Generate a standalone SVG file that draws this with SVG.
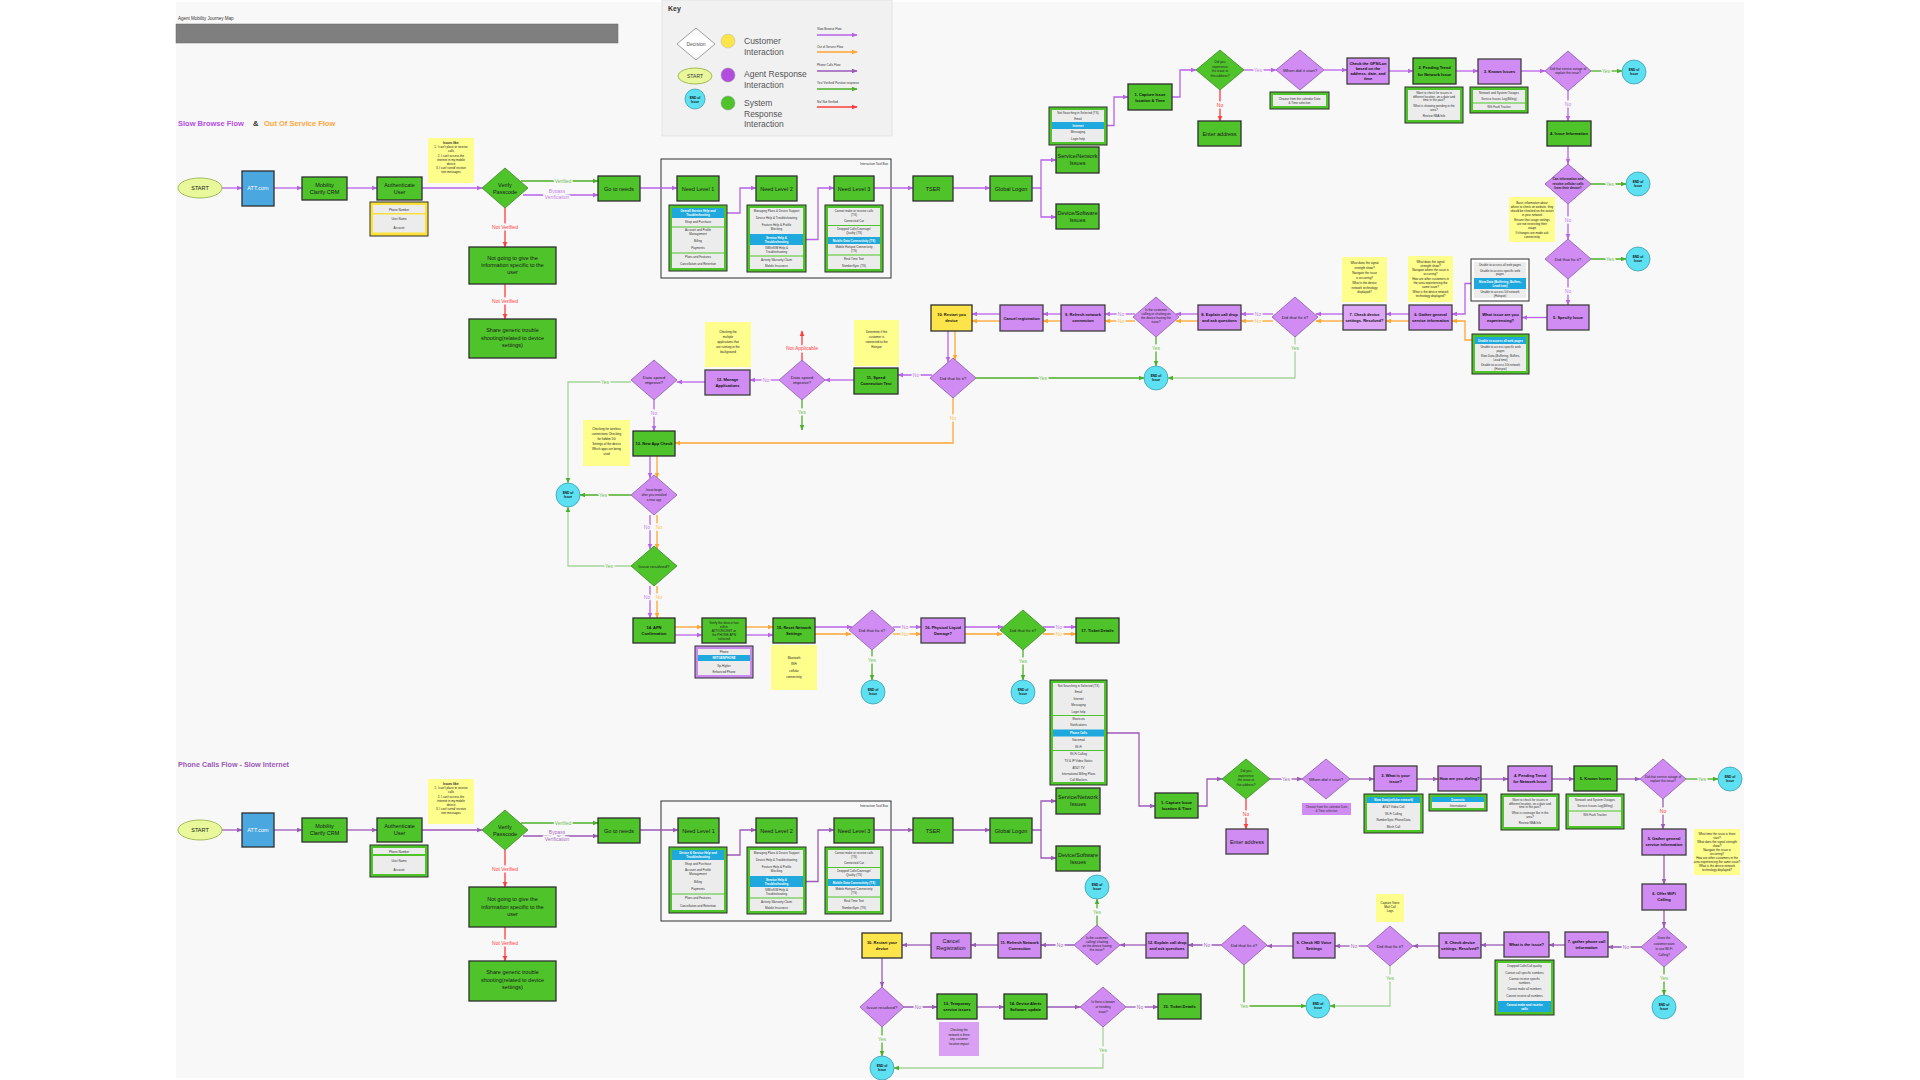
<svg xmlns="http://www.w3.org/2000/svg" width="1920" height="1080" viewBox="0 0 1920 1080">
<defs>
<style>
text{font-family:"Liberation Sans",Arial,sans-serif}
.n{font-size:5.5px;text-anchor:middle;fill:#1a1a1a}
.nb{font-size:4px;text-anchor:middle;fill:#111;font-weight:bold}
.d{font-size:4.4px;text-anchor:middle;fill:#222}
.ds{font-size:3.2px;text-anchor:middle;fill:#222}
.r{font-size:3px;text-anchor:middle;fill:#333}
.rw{font-size:3px;text-anchor:middle;fill:#fff;font-weight:bold}
.nt{font-size:3px;text-anchor:middle;fill:#222}
.wt{fill:#fff}
.g{fill:#4ec32a;stroke:#2e2e2e;stroke-width:1.3}
.p{fill:#d08cf2;stroke:#3e3e3e;stroke-width:1.3}
.pd{fill:#d08cf2;stroke:#8e5aa8;stroke-width:0.8}
.gd{fill:#4ec32a;stroke:#3a8a22;stroke-width:0.8}
.yl{fill:#fde44a;stroke:#2e2e2e;stroke-width:1.3}
.bl{fill:#4aa7e0;stroke:#2e2e2e;stroke-width:1.3}
.st{fill:#e8f89b;stroke:#8fae3b;stroke-width:0.8}
.note{fill:#fefe8c}
.end{fill:#5de0f2;stroke:#3a9fb0;stroke-width:0.8}
.tg{fill:#4ec32a;stroke:#2e2e2e;stroke-width:1}
.tin{fill:#ececec}
.hl{fill:#1ea8dd}
.dv{stroke:#4ec32a;stroke-width:1.2}
.c{fill:none;stroke-width:1.3}
.cp{stroke:#b862e8;marker-end:url(#ap)}
.co{stroke:#ffa530;marker-end:url(#ao)}
.cc{stroke:#9b59b6;marker-end:url(#ac)}
.cg{stroke:#4caf2a;marker-end:url(#ag)}
.cl{stroke:#a6d49c;marker-end:url(#ag)}
.cr{stroke:#ff3b3b;marker-end:url(#ar)}
.l{font-size:5px;text-anchor:middle;paint-order:stroke;stroke:#f8f8f8;stroke-width:3px}
.ly{fill:#6cbf4f}.ln{fill:#c77ee8}.lo{fill:#ffc04d}.lr{fill:#ff4040}.lc{fill:#a66cc0}
.ek{font-size:3.2px;text-anchor:middle;fill:#111;font-weight:bold}
</style>
<marker id="ap" viewBox="0 0 10 10" refX="9" refY="5" markerUnits="userSpaceOnUse" markerWidth="6" markerHeight="6" orient="auto"><path d="M0,1L10,5L0,9Z" fill="#b862e8"/></marker>
<marker id="ao" viewBox="0 0 10 10" refX="9" refY="5" markerUnits="userSpaceOnUse" markerWidth="6" markerHeight="6" orient="auto"><path d="M0,1L10,5L0,9Z" fill="#ffa530"/></marker>
<marker id="ac" viewBox="0 0 10 10" refX="9" refY="5" markerUnits="userSpaceOnUse" markerWidth="6" markerHeight="6" orient="auto"><path d="M0,1L10,5L0,9Z" fill="#9b59b6"/></marker>
<marker id="ag" viewBox="0 0 10 10" refX="9" refY="5" markerUnits="userSpaceOnUse" markerWidth="6" markerHeight="6" orient="auto"><path d="M0,1L10,5L0,9Z" fill="#4caf2a"/></marker>
<marker id="ar" viewBox="0 0 10 10" refX="9" refY="5" markerUnits="userSpaceOnUse" markerWidth="6" markerHeight="6" orient="auto"><path d="M0,1L10,5L0,9Z" fill="#ff3b3b"/></marker>
</defs>
<rect x="0" y="0" width="1920" height="1080" fill="#ffffff"/>
<rect x="176" y="2" width="1568" height="1076" fill="#f8f8f8"/>

<g id="header">
<text x="178" y="20" font-size="4.5" fill="#333">Agent Mobility Journey Map</text>
<rect x="176" y="24" width="442" height="19" fill="#7f7f7f" stroke="#666" stroke-width="0.5"/>
<text x="178" y="126" font-size="7.5" font-weight="bold" fill="#b44ee8">Slow Browse Flow</text>
<text x="253" y="126" font-size="7.5" font-weight="bold" fill="#333">&amp;</text>
<text x="264" y="126" font-size="7.5" font-weight="bold" fill="#ffa53a">Out Of Service Flow</text>
<text x="178" y="767" font-size="7.2" font-weight="bold" fill="#9b59b6">Phone Calls Flow - Slow Internet</text>
</g>

<g id="key">
<rect x="662" y="0" width="230" height="136" fill="#f1f1f1" stroke="#e3e3e3"/>
<text x="668" y="11" font-size="7" font-weight="bold" fill="#333">Key</text>
<polygon points="696,28 715,44 696,60 677,44" fill="#fff" stroke="#888" stroke-width="0.8"/>
<text x="696" y="46" font-size="5" text-anchor="middle" fill="#555">Decision</text>
<circle cx="728" cy="41" r="7" fill="#fde44a" stroke="#bbb" stroke-width="0.5"/>
<text x="744" y="44" font-size="8.5" fill="#555">Customer</text>
<text x="744" y="55" font-size="8.5" fill="#555">Interaction</text>
<ellipse cx="695" cy="76" rx="17" ry="8" class="st"/>
<text x="695" y="78" font-size="5" text-anchor="middle" fill="#333">START</text>
<circle cx="728" cy="75" r="7" fill="#b24de0" stroke="#999" stroke-width="0.5"/>
<text x="744" y="77" font-size="8.5" fill="#555">Agent Response</text>
<text x="744" y="88" font-size="8.5" fill="#555">Interaction</text>
<circle cx="695" cy="99" r="10" class="end"/>
<text x="695" y="98.5" class="ek">END of</text><text x="695" y="102.5" class="ek">Issue</text>
<circle cx="728" cy="103" r="7" fill="#4ec32a" stroke="#999" stroke-width="0.5"/>
<text x="744" y="106" font-size="8.5" fill="#555">System</text>
<text x="744" y="117" font-size="8.5" fill="#555">Response</text>
<text x="744" y="127" font-size="8.5" fill="#555">Interaction</text>
<text x="817" y="30" font-size="3" fill="#333">Slow Browse Flow</text>
<path d="M817,35H857" class="c cp"/>
<text x="817" y="48" font-size="3" fill="#333">Out of Service Flow</text>
<path d="M817,52H857" class="c co"/>
<text x="817" y="66" font-size="3" fill="#333">Phone Calls Flow</text>
<path d="M817,71H857" class="c cc"/>
<text x="817" y="84" font-size="3" fill="#333">Yes/ Verified/ Positive response</text>
<path d="M817,89H857" class="c cg"/>
<text x="817" y="103" font-size="3" fill="#333">No/ Not Verified</text>
<path d="M817,107H857" class="c cr"/>
</g>

<g id="frames">
<rect x="661" y="159" width="230" height="119" fill="none" stroke="#2e2e2e" stroke-width="1"/>
<text x="888" y="165" font-size="3.2" text-anchor="end" fill="#333">Interaction Tool Box</text>
<rect x="661" y="801" width="230" height="120" fill="none" stroke="#2e2e2e" stroke-width="1"/>
<text x="888" y="807" font-size="3.2" text-anchor="end" fill="#333">Interaction Tool Box</text>
</g>

<g id="connectors">
<!-- top flow -->
<path class="c cp" d="M222,188H242"/>
<path class="c cp" d="M274,188H302"/>
<path class="c cp" d="M347,188H377"/>
<path class="c cp" d="M422,188H482"/>
<path class="c cg" d="M521,181H598"/>
<path class="c cp" d="M523,195H598"/>
<path class="c cr" d="M505,208V247"/>
<path class="c cr" d="M505,284V319"/>
<path class="c cp" d="M640,188H677"/>
<path class="c cp" d="M727,213H740V188H756"/>
<path class="c cp" d="M806,239.5H818V188H834"/>
<path class="c cp" d="M874,188H913"/>
<path class="c cp" d="M953,188H990"/>
<path class="c cp" d="M1032,188H1041V160H1056"/>
<path class="c cp" d="M1041,188V217H1056"/>
<path class="c cp" d="M1107,125.5H1114V97H1128"/>
<path class="c cp" d="M1172,97H1180V70H1196"/>
<path class="c cr" d="M1220,90V121"/>
<path class="c cp" d="M1244,70H1276"/>
<path class="c cp" d="M1324,70H1347"/>
<path class="c cp" d="M1389,71H1413"/>
<path class="c cp" d="M1456,71H1478"/>
<path class="c cp" d="M1521,71H1545"/>
<path class="c cg" d="M1591,71H1622"/>
<path class="c cp" d="M1568,91V121"/>
<path class="c cp" d="M1568,146V164"/>
<path class="c cg" d="M1591,184H1626"/>
<path class="c cp" d="M1568,204V239"/>
<path class="c cg" d="M1591,259H1626"/>
<path class="c cp" d="M1568,279V305"/>
<path class="c cp" d="M1547,317.5H1522"/>
<path class="c cp" d="M1471,283.5H1465V314H1452"/>
<path class="c co" d="M1472,340H1465V321H1452"/>
<path class="c cp" d="M1409,314H1386"/>
<path class="c co" d="M1409,321H1386"/>
<path class="c cp" d="M1343,314H1316"/>
<path class="c co" d="M1343,321H1316"/>
<path class="c cp" d="M1273,314H1241"/>
<path class="c co" d="M1273,321H1241"/>
<path class="c cp" d="M1198,314H1176"/>
<path class="c co" d="M1198,321H1176"/>
<path class="c cp" d="M1135,314H1105"/>
<path class="c co" d="M1135,321H1105"/>
<path class="c cp" d="M1061,314H1043"/>
<path class="c co" d="M1061,321H1043"/>
<path class="c cp" d="M1000,314H972"/>
<path class="c co" d="M1000,321H972"/>
<path class="c cg" d="M1156,337V366"/>
<path class="c cl" d="M1295,337V378H1168"/>
<path class="c cp" d="M948,331V362"/>
<path class="c co" d="M955,331V360"/>
<path class="c cg" d="M976,378H1144"/>
<path class="c cp" d="M932,375H898"/>
<path class="c co" d="M953,398V443H675"/>
<path class="c cp" d="M854,380H825"/>
<path class="c cr" d="M802,360V331"/>
<path class="c cg" d="M802,400V430"/>
<path class="c cp" d="M779,380H750"/>
<path class="c cp" d="M705,382H677"/>
<path class="c cl" d="M631,382H568V483"/>
<path class="c cp" d="M654,400V431"/>
<path class="c cp" d="M650,456V478"/>
<path class="c co" d="M657,456V478"/>
<path class="c cg" d="M631,495H580"/>
<path class="c cp" d="M650,515V549"/>
<path class="c co" d="M657,515V549"/>
<path class="c cl" d="M631,566H568V507"/>
<path class="c cp" d="M650,586V618"/>
<path class="c co" d="M657,586V618"/>
<path class="c co" d="M675,627H702"/>
<path class="c cp" d="M675,635H702"/>
<path class="c co" d="M746,627H773"/>
<path class="c cp" d="M746,635H773"/>
<path class="c cp" d="M815,627H852"/>
<path class="c co" d="M815,634H851"/>
<path class="c cp" d="M893,627H921"/>
<path class="c co" d="M893,634H921"/>
<path class="c cg" d="M872,650V680"/>
<path class="c cp" d="M965,627H1003"/>
<path class="c co" d="M965,634H1002"/>
<path class="c cp" d="M1043,627H1076"/>
<path class="c co" d="M1043,634H1076"/>
<path class="c cg" d="M1023,650V680"/>
<!-- phone flow -->
<path class="c cc" d="M222,830H242"/>
<path class="c cc" d="M274,830H302"/>
<path class="c cc" d="M347,830H377"/>
<path class="c cc" d="M422,830H482"/>
<path class="c cg" d="M521,823H598"/>
<path class="c cc" d="M523,836H598"/>
<path class="c cr" d="M505,850V887"/>
<path class="c cr" d="M505,927V961"/>
<path class="c cc" d="M640,830H678"/>
<path class="c cc" d="M727,855H740V830H756"/>
<path class="c cc" d="M806,881.5H818V830H834"/>
<path class="c cc" d="M874,830H913"/>
<path class="c cc" d="M953,830H990"/>
<path class="c cc" d="M1032,830H1041V801H1056"/>
<path class="c cc" d="M1041,830V858H1056"/>
<path class="c cc" d="M1107,733H1139V806H1155"/>
<path class="c cc" d="M1198,806H1207V779H1222"/>
<path class="c cr" d="M1246,799V829"/>
<path class="c cc" d="M1270,779H1302"/>
<path class="c cc" d="M1350,779H1374"/>
<path class="c cc" d="M1417,779H1438"/>
<path class="c cc" d="M1481,779H1508"/>
<path class="c cc" d="M1552,779H1574"/>
<path class="c cc" d="M1617,779H1640"/>
<path class="c cg" d="M1686,779H1718"/>
<path class="c cc" d="M1663,799V829"/>
<path class="c cc" d="M1664,855V884"/>
<path class="c cc" d="M1664,910V927"/>
<path class="c cg" d="M1664,967V995"/>
<path class="c cc" d="M1641,947H1608"/>
<path class="c cc" d="M1565,945H1549"/>
<path class="c cc" d="M1504,945H1481"/>
<path class="c cc" d="M1439,946H1413"/>
<path class="c cl" d="M1390,966V1006H1330"/>
<path class="c cc" d="M1367,946H1335"/>
<path class="c cc" d="M1293,946H1267"/>
<path class="c cg" d="M1244,965V1006H1306"/>
<path class="c cc" d="M1221,945H1188"/>
<path class="c cc" d="M1146,945H1120"/>
<path class="c cg" d="M1097,925V899"/>
<path class="c cc" d="M1074,945H1041"/>
<path class="c cc" d="M998,945H971"/>
<path class="c cc" d="M931,945H902"/>
<path class="c cc" d="M882,958V987"/>
<path class="c cc" d="M904,1007H937"/>
<path class="c cc" d="M977,1007H1004"/>
<path class="c cc" d="M1047,1007H1080"/>
<path class="c cc" d="M1126,1007H1158"/>
<path class="c cl" d="M1103,1027V1068H894"/>
<path class="c cg" d="M882,1027V1056"/>
<!-- labels -->
<text class="l ly" x="563" y="182.5">Verified</text>
<text class="l ln" x="557" y="193">Bypass</text>
<text class="l ln" x="557" y="199">Verification</text>
<text class="l lr" x="505" y="229">Not Verified</text>
<text class="l lr" x="505" y="303">Not Verified</text>
<text class="l lr" x="1220" y="107">No</text>
<text class="l ln" x="1258" y="71.5">Yes</text>
<text class="l ly" x="1606" y="72.5">Yes</text>
<text class="l ln" x="1568" y="106">No</text>
<text class="l ly" x="1610" y="185.5">Yes</text>
<text class="l ln" x="1568" y="221.5">No</text>
<text class="l ly" x="1610" y="260.5">Yes</text>
<text class="l ln" x="1568" y="293">No</text>
<text class="l ln" x="1258" y="315.5">No</text>
<text class="l lo" x="1258" y="322.5">No</text>
<text class="l ln" x="1121" y="315.5">No</text>
<text class="l lo" x="1121" y="322.5">No</text>
<text class="l ly" x="1156" y="350">Yes</text>
<text class="l ly" x="1295" y="350">Yes</text>
<text class="l ly" x="1043" y="379.5">Yes</text>
<text class="l ln" x="916" y="376.5">No</text>
<text class="l lo" x="953" y="420">No</text>
<text class="l lr" x="802" y="349.5">Not Applicable</text>
<text class="l ly" x="802" y="413.5">Yes</text>
<text class="l ln" x="766" y="381.5">No</text>
<text class="l ly" x="605" y="383.5">Yes</text>
<text class="l ln" x="654" y="414.5">No</text>
<text class="l ly" x="603" y="496.5">Yes</text>
<text class="l ln" x="647" y="528.5">No</text>
<text class="l lo" x="659" y="528.5">No</text>
<text class="l ly" x="609" y="567.5">Yes</text>
<text class="l ln" x="647" y="598.5">No</text>
<text class="l lo" x="659" y="598.5">No</text>
<text class="l ln" x="905" y="628.5">No</text>
<text class="l lo" x="905" y="635.5">No</text>
<text class="l ly" x="872" y="662">Yes</text>
<text class="l ln" x="1059" y="628.5">No</text>
<text class="l lo" x="1059" y="635.5">No</text>
<text class="l ly" x="1023" y="663">Yes</text>
<text class="l ly" x="563" y="824.5">Verified</text>
<text class="l lc" x="557" y="834">Bypass</text>
<text class="l lc" x="557" y="840.5">Verification</text>
<text class="l lr" x="505" y="871">Not Verified</text>
<text class="l lr" x="505" y="945">Not Verified</text>
<text class="l lr" x="1246" y="816">No</text>
<text class="l lc" x="1286" y="780.5">Yes</text>
<text class="l ly" x="1702" y="780.5">Yes</text>
<text class="l lr" x="1663" y="812.5">No</text>
<text class="l ly" x="1664" y="980">Yes</text>
<text class="l lc" x="1626" y="948.5">No</text>
<text class="l ly" x="1390" y="979.5">Yes</text>
<text class="l lc" x="1354" y="947.5">No</text>
<text class="l ly" x="1244" y="1007.5">Yes</text>
<text class="l lc" x="1207" y="946.5">No</text>
<text class="l ly" x="1097" y="913.5">Yes</text>
<text class="l lc" x="1060" y="946.5">No</text>
<text class="l lc" x="918" y="1008.5">No</text>
<text class="l lc" x="1140" y="1008.5">No</text>
<text class="l ly" x="1103" y="1051.5">Yes</text>
<text class="l ly" x="882" y="1040.5">Yes</text>
</g>

<!-- ===== TOP FLOW NODES ===== -->
<g id="start1"><ellipse cx="200" cy="188" rx="22" ry="10" class="st"/><text class="n" x="200" y="190">START</text></g>
<g id="att1"><rect x="242" y="171" width="32" height="35" class="bl"/><text class="n wt" x="258" y="190">ATT.com</text></g>
<g id="crm1"><rect x="302" y="177" width="45" height="23" class="g"/><text class="n" x="324.5" y="186.5">Mobility</text><text class="n" x="324.5" y="193.5">Clarify CRM</text></g>
<g id="auth1"><rect x="377" y="177" width="45" height="23" class="g"/><text class="n" x="399.5" y="186.5">Authenticate</text><text class="n" x="399.5" y="193.5">User</text></g>
<g id="authT1"><rect x="370" y="202" width="58" height="34" fill="#fde03a" stroke="#2e2e2e" stroke-width="1"/><rect x="373" y="205" width="52" height="8" class="tin"/><rect x="373" y="214.5" width="52" height="18" class="tin"/><text class="r" x="399" y="210.5">Phone Number</text><text class="r" x="399" y="220">User Name</text><text class="r" x="399" y="228.5">Account</text></g>
<g id="note1"><rect x="428" y="138" width="46" height="45" class="note"/><text class="nt" x="451" y="144" font-weight="bold">Issues like:</text><text class="nt" x="451" y="148">1. I can't place or receive</text><text class="nt" x="451" y="152">calls</text><text class="nt" x="451" y="156.5">2. I can't access the</text><text class="nt" x="451" y="160.5">internet in my mobile</text><text class="nt" x="451" y="164.5">device</text><text class="nt" x="451" y="169">3. I can't send/ receive</text><text class="nt" x="451" y="173">text messages</text></g>
<g id="verify1"><polygon points="505,168 528,188 505,208 482,188" class="gd"/><text class="n" x="505" y="186.5">Verify</text><text class="n" x="505" y="193.5">Passcode</text></g>
<g id="notgo1"><rect x="469" y="247" width="87" height="37" class="g"/><text class="n" x="512.5" y="260">Not going to give the</text><text class="n" x="512.5" y="267">information specific to the</text><text class="n" x="512.5" y="274">user</text></g>
<g id="share1"><rect x="469" y="319" width="87" height="39" class="g"/><text class="n" x="512.5" y="332">Share generic trouble</text><text class="n" x="512.5" y="339.5">shooting(related to device</text><text class="n" x="512.5" y="347">settings)</text></g>
<g id="goto1"><rect x="598" y="176" width="42" height="25" class="g"/><text class="n" x="619" y="190.5">Go to needs</text></g>
<g id="nl1a"><rect x="677" y="176" width="42" height="25" class="g"/><text class="n" x="698" y="190.5">Need Level 1</text></g>
<g id="nl2a"><rect x="756" y="176" width="41" height="25" class="g"/><text class="n" x="776.5" y="190.5">Need Level 2</text></g>
<g id="nl3a"><rect x="834" y="176" width="40" height="25" class="g"/><text class="n" x="854" y="190.5">Need Level 3</text></g>
<g id="tser1"><rect x="913" y="176" width="40" height="25" class="g"/><text class="n" x="933" y="190.5">TSER</text></g>
<g id="t1a"><rect x="669" y="205" width="58" height="66" class="tg"/><rect x="672" y="208" width="52" height="60" class="tin"/><rect x="672" y="208" width="52" height="10" class="hl"/><text class="rw" x="698" y="212">Overall Service Help and</text><text class="rw" x="698" y="216">Troubleshooting</text><text class="r" x="698" y="223">Shop and Purchase</text><path d="M672,227H724" class="dv"/><text class="r" x="698" y="231">Account and Profile</text><text class="r" x="698" y="235">Management</text><text class="r" x="698" y="242">Billing</text><text class="r" x="698" y="249">Payments</text><path d="M672,253H724" class="dv"/><text class="r" x="698" y="258">Plans and Features</text><text class="r" x="698" y="265">Cancellation and Retention</text></g>
<g id="t2a"><rect x="747" y="205" width="59" height="67" class="tg"/><rect x="750" y="208" width="53" height="61" class="tin"/><text class="r" x="776.5" y="212">Managing Plans &amp; Device Support</text><text class="r" x="776.5" y="219">Device Help &amp; Troubleshooting</text><text class="r" x="776.5" y="226">Feature Help &amp; Profile</text><text class="r" x="776.5" y="230">Blocking</text><rect x="750" y="234" width="53" height="11" class="hl"/><text class="rw" x="776.5" y="238.5">Service Help &amp;</text><text class="rw" x="776.5" y="242.5">Troubleshooting</text><text class="r" x="776.5" y="249">SIM/eSIM Help &amp;</text><text class="r" x="776.5" y="253">Troubleshooting</text><path d="M750,256H803" class="dv"/><text class="r" x="776.5" y="261">Activity Warranty Claim</text><text class="r" x="776.5" y="267">Mobile Insurance</text></g>
<g id="t3a"><rect x="825" y="205" width="58" height="67" class="tg"/><rect x="828" y="208" width="52" height="61" class="tin"/><text class="r" x="854" y="212">Cannot make or receive calls</text><text class="r" x="854" y="216">(TS)</text><text class="r" x="854" y="222">Connected Car</text><path d="M828,225.5H880" class="dv"/><text class="r" x="854" y="230">Dropped Calls/Coverage/</text><text class="r" x="854" y="234">Quality (TS)</text><rect x="828" y="237" width="52" height="7" class="hl"/><text class="rw" x="854" y="241.5">Mobile Data Connectivity (TS)</text><text class="r" x="854" y="248">Mobile Hotspot Connectivity</text><text class="r" x="854" y="252">(TS)</text><path d="M828,255H880" class="dv"/><text class="r" x="854" y="260">Real Time Text</text><text class="r" x="854" y="267">NumberSync (TS)</text></g>
<g id="glob1"><rect x="990" y="176" width="42" height="25" class="g"/><text class="n" x="1011" y="190.5">Global Logon</text></g>
<g id="svc1"><rect x="1056" y="147" width="43" height="26" class="g"/><text class="n" x="1077.5" y="158">Service/Network</text><text class="n" x="1077.5" y="165">Issues</text></g>
<g id="dev1"><rect x="1056" y="204" width="43" height="25" class="g"/><text class="n" x="1077.5" y="214.5">Device/Software</text><text class="n" x="1077.5" y="221.5">Issues</text></g>
<g id="svcT1"><rect x="1049" y="107" width="58" height="38" class="tg"/><rect x="1052" y="110" width="52" height="32" class="tin"/><text class="r" x="1078" y="114">Not Searching in Selected (TS)</text><text class="r" x="1078" y="119.5">Email</text><rect x="1052" y="122" width="52" height="7" class="hl"/><text class="rw" x="1078" y="126.5">Internet</text><text class="r" x="1078" y="133">Messaging</text><text class="r" x="1078" y="140">Login help</text></g>
<g id="cap1"><rect x="1128" y="84" width="44" height="26" class="g"/><text class="nb" x="1150" y="95.5">1. Capture Issue</text><text class="nb" x="1150" y="101.5">location &amp; Time</text></g>
<g id="addr1"><polygon points="1220,50 1244,70 1220,90 1196,70" class="gd"/><text class="ds" x="1220" y="63">Did you</text><text class="ds" x="1220" y="67.5">experience</text><text class="ds" x="1220" y="72">the issue at</text><text class="ds" x="1220" y="76.5">this address?</text></g>
<g id="enter1"><rect x="1198" y="121" width="43" height="25" class="g"/><text class="n" x="1219.5" y="135.5">Enter address</text></g>
<g id="when1"><polygon points="1300,50 1324,70 1300,90 1276,70" class="pd"/><text class="d" x="1300" y="71.5">When did it start?</text></g>
<g id="cal1"><rect x="1270" y="92" width="59" height="17" class="tg"/><rect x="1273" y="95" width="53" height="11" class="tin"/><text class="r" x="1299.5" y="99.5">Choose from the calendar Date</text><text class="r" x="1299.5" y="103.5">&amp; Time selection</text></g>
<g id="gps1"><rect x="1347" y="58" width="42" height="26" class="p"/><text class="nb" x="1368" y="65" font-size="3.6">Check the GPS/Lon</text><text class="nb" x="1368" y="70" font-size="3.6">based on the</text><text class="nb" x="1368" y="75" font-size="3.6">address, date, and</text><text class="nb" x="1368" y="80" font-size="3.6">time</text></g>
<g id="pend1"><rect x="1413" y="58" width="43" height="26" class="g"/><text class="nb" x="1434.5" y="69">2. Pending Trend</text><text class="nb" x="1434.5" y="75.5">for Network Issue</text></g>
<g id="pendT1"><rect x="1405" y="87" width="58" height="36" class="tg"/><rect x="1408" y="90" width="52" height="30" class="tin"/><text class="r" x="1434" y="94">Want to check for issues in</text><text class="r" x="1434" y="97.5">different location, on a date and</text><text class="r" x="1434" y="101">time in the past?</text><text class="r" x="1434" y="107">What is showing pending in the</text><text class="r" x="1434" y="110.5">area?</text><text class="r" x="1434" y="117">Review NBA Info</text></g>
<g id="known1"><rect x="1478" y="59" width="43" height="25" class="p"/><text class="nb" x="1499.5" y="73">3. Known Issues</text></g>
<g id="knownT1"><rect x="1470" y="87" width="58" height="26" class="tg"/><rect x="1473" y="90" width="52" height="20" class="tin"/><text class="r" x="1499" y="94">Network and System Outages</text><text class="r" x="1499" y="99.5">Service Issues Log(Billing)</text><path d="M1473,103H1525" class="dv"/><text class="r" x="1499" y="108">Wifi Fault Tracker</text></g>
<g id="outage1"><polygon points="1568,51 1591,71 1568,91 1545,71" class="pd"/><text class="ds" x="1568" y="69.5" font-size="3">Did that service outage of</text><text class="ds" x="1568" y="74" font-size="3">explain the issue?</text></g>
<g id="endA"><circle cx="1634" cy="72" r="12" class="end"/><text class="ek" x="1634" y="71">END of</text><text class="ek" x="1634" y="75">Issue</text></g>
<g id="info1"><rect x="1547" y="121" width="44" height="25" class="g"/><text class="nb" x="1569" y="135" font-size="3.7">4. Issue Information</text></g>
<g id="canInfo1"><polygon points="1568,164 1591,184 1568,204 1545,184" class="pd"/><text class="ds" x="1568" y="180" font-weight="bold">Can information and</text><text class="ds" x="1568" y="184.5" font-weight="bold">resolve cellular calls</text><text class="ds" x="1568" y="189" font-weight="bold">from their device?</text></g>
<g id="endB"><circle cx="1638" cy="184" r="12" class="end"/><text class="ek" x="1638" y="183">END of</text><text class="ek" x="1638" y="187">Issue</text></g>
<g id="note2"><rect x="1509" y="197" width="46" height="45" class="note"/><text class="nt" x="1532" y="204">Basic information about</text><text class="nt" x="1532" y="208">where to check on website, they</text><text class="nt" x="1532" y="212">should be checked on the outset</text><text class="nt" x="1532" y="216">in your network</text><text class="nt" x="1532" y="221">Ensure that usage settings</text><text class="nt" x="1532" y="225">are not restricting their</text><text class="nt" x="1532" y="229">usage</text><text class="nt" x="1532" y="234">If changes are made ask</text><text class="nt" x="1532" y="238">connectivity</text></g>
<g id="fix1"><polygon points="1568,239 1591,259 1568,279 1545,259" class="pd"/><text class="d" x="1568" y="260.5">Did that fix it?</text></g>
<g id="endC"><circle cx="1638" cy="259" r="12" class="end"/><text class="ek" x="1638" y="258">END of</text><text class="ek" x="1638" y="262">Issue</text></g>
<g id="spec1"><rect x="1547" y="305" width="42" height="25" class="p"/><text class="nb" x="1568" y="319">5. Specify Issue</text></g>
<g id="what1"><rect x="1479" y="305" width="43" height="25" class="p"/><text class="nb" x="1500.5" y="315.5" font-size="3.7">What issue are you</text><text class="nb" x="1500.5" y="321.5" font-size="3.7">experiencing?</text></g>
<g id="tA"><rect x="1471" y="259" width="58" height="42" fill="#fff" stroke="#2e2e2e" stroke-width="1"/><rect x="1474" y="262" width="52" height="36" class="tin"/><text class="r" x="1500" y="266">Unable to access all web pages</text><text class="r" x="1500" y="271.5">Unable to access specific web</text><text class="r" x="1500" y="275">pages</text><rect x="1474" y="278" width="52" height="11" class="hl"/><text class="rw" x="1500" y="282.5">Slow Data (Buffering, Buffers,</text><text class="rw" x="1500" y="286.5">Lead time)</text><text class="r" x="1500" y="293">Unable to access 5G network</text><text class="r" x="1500" y="297">(Hotspot)</text></g>
<g id="tB"><rect x="1472" y="334" width="57" height="40" class="tg"/><rect x="1475" y="337" width="51" height="34" class="tin"/><rect x="1475" y="337" width="51" height="7" class="hl"/><text class="rw" x="1500.5" y="341.5">Unable to access all web pages</text><text class="r" x="1500.5" y="348">Unable to access specific web</text><text class="r" x="1500.5" y="351.5">pages</text><text class="r" x="1500.5" y="357">Slow Data (Buffering, Buffers,</text><text class="r" x="1500.5" y="360.5">Lead time)</text><text class="r" x="1500.5" y="366">Unable to access 5G network</text><text class="r" x="1500.5" y="369.5">(Hotspot)</text></g>
<g id="gath1"><rect x="1409" y="305" width="43" height="25" class="p"/><text class="nb" x="1430.5" y="315.5" font-size="3.7">6. Gather general</text><text class="nb" x="1430.5" y="321.5" font-size="3.7">service information</text></g>
<g id="note3"><rect x="1408" y="256" width="45" height="46" class="note"/><text class="nt" x="1430.5" y="263">What does the signal</text><text class="nt" x="1430.5" y="267">strength show?</text><text class="nt" x="1430.5" y="271">Navigate where the issue is</text><text class="nt" x="1430.5" y="275">occurring?</text><text class="nt" x="1430.5" y="280">How are other customers in</text><text class="nt" x="1430.5" y="284">the area experiencing the</text><text class="nt" x="1430.5" y="288">same issue?</text><text class="nt" x="1430.5" y="293">What is the device network</text><text class="nt" x="1430.5" y="297">technology displayed?</text></g>
<g id="note4"><rect x="1342" y="257" width="45" height="45" class="note"/><text class="nt" x="1364.5" y="264">What does the signal</text><text class="nt" x="1364.5" y="268.5">strength show?</text><text class="nt" x="1364.5" y="274">Navigate the issue</text><text class="nt" x="1364.5" y="278.5">is occurring?</text><text class="nt" x="1364.5" y="284">What is the device</text><text class="nt" x="1364.5" y="288.5">network technology</text><text class="nt" x="1364.5" y="293">displayed?</text></g>
<g id="chk7"><rect x="1343" y="305" width="43" height="25" fill="#dda6f6" stroke="#3e3e3e" stroke-width="1.3"/><text class="nb" x="1364.5" y="315.5" font-size="3.7">7. Check device</text><text class="nb" x="1364.5" y="321.5" font-size="3.7">settings. Resolved?</text></g>
<g id="fix2"><polygon points="1295,297 1318,317 1295,337 1272,317" class="pd"/><text class="d" x="1295" y="318.5">Did that fix it?</text></g>
<g id="exp8"><rect x="1198" y="305" width="43" height="25" class="p"/><text class="nb" x="1219.5" y="315.5" font-size="3.7">8. Explain call drop</text><text class="nb" x="1219.5" y="321.5" font-size="3.7">and ask questions</text></g>
<g id="call1"><polygon points="1156,297 1179,317 1156,337 1133,317" class="pd"/><text class="ds" x="1156" y="311" font-size="3">Is the customer</text><text class="ds" x="1156" y="315" font-size="3">calling or chatting on</text><text class="ds" x="1156" y="319" font-size="3">the device having the</text><text class="ds" x="1156" y="323" font-size="3">issue?</text></g>
<g id="ref9"><rect x="1061" y="305" width="44" height="26" class="p"/><text class="nb" x="1083" y="316" font-size="3.7">9. Refresh network</text><text class="nb" x="1083" y="322" font-size="3.7">connection</text></g>
<g id="can1"><rect x="1000" y="305" width="43" height="26" class="p"/><text class="nb" x="1021.5" y="319.5" font-size="3.7">Cancel registration</text></g>
<g id="rst10"><rect x="931" y="305" width="41" height="26" class="yl"/><text class="nb" x="951.5" y="316" font-size="3.7">10. Restart you</text><text class="nb" x="951.5" y="322" font-size="3.7">device</text></g>
<g id="endD"><circle cx="1156" cy="378" r="12" class="end"/><text class="ek" x="1156" y="377">END of</text><text class="ek" x="1156" y="381">Issue</text></g>
<g id="fix3"><polygon points="953,358 976,378 953,398 930,378" class="pd"/><text class="d" x="953" y="379.5">Did that fix it?</text></g>
<g id="spd11"><rect x="854" y="368" width="44" height="26" class="g"/><text class="nb" x="876" y="379" font-size="3.7">11. Speed</text><text class="nb" x="876" y="385" font-size="3.7">Connection Test</text></g>
<g id="note5"><rect x="854" y="320" width="45" height="46" class="note"/><text class="nt" x="876.5" y="333" font-size="3.3">Determine if the</text><text class="nt" x="876.5" y="338" font-size="3.3">customer is</text><text class="nt" x="876.5" y="343" font-size="3.3">connected to the</text><text class="nt" x="876.5" y="348" font-size="3.3">Hotspot</text></g>
<g id="data1"><polygon points="802,360 825,380 802,400 779,380" class="pd"/><text class="d" x="802" y="378.5">Data speed</text><text class="d" x="802" y="383.5">improve?</text></g>
<g id="man12"><rect x="705" y="370" width="45" height="25" class="p"/><text class="nb" x="727.5" y="380.5" font-size="3.7">12. Manage</text><text class="nb" x="727.5" y="386.5" font-size="3.7">Applications</text></g>
<g id="note6"><rect x="705" y="322" width="46" height="45" class="note"/><text class="nt" x="728" y="333" font-size="3.3">Checking the</text><text class="nt" x="728" y="338" font-size="3.3">multiple</text><text class="nt" x="728" y="343" font-size="3.3">applications that</text><text class="nt" x="728" y="348" font-size="3.3">are running in the</text><text class="nt" x="728" y="353" font-size="3.3">background</text></g>
<g id="data2"><polygon points="654,360 677,380 654,400 631,380" class="pd"/><text class="d" x="654" y="378.5">Data speed</text><text class="d" x="654" y="383.5">improve?</text></g>
<g id="endE"><circle cx="568" cy="495" r="12" class="end"/><text class="ek" x="568" y="494">END of</text><text class="ek" x="568" y="498">Issue</text></g>
<g id="app13"><rect x="633" y="431" width="42" height="25" class="g"/><text class="nb" x="654" y="445" font-size="3.7">13. New App Check</text></g>
<g id="note7"><rect x="583" y="420" width="47" height="46" class="note"/><text class="nt" x="606.5" y="430">Checking for wireless</text><text class="nt" x="606.5" y="435">connections Checking</text><text class="nt" x="606.5" y="440">for hidden 5G</text><text class="nt" x="606.5" y="445">Settings of the device</text><text class="nt" x="606.5" y="450">Which apps are being</text><text class="nt" x="606.5" y="455">used</text></g>
<g id="begin1"><polygon points="654,475 677,495 654,515 631,495" class="pd"/><text class="ds" x="654" y="490.5" font-size="3.6">Issue begin</text><text class="ds" x="654" y="495.5" font-size="3.6">after you installed</text><text class="ds" x="654" y="500.5" font-size="3.6">a new app</text></g>
<g id="res1"><polygon points="654,546 677,566 654,586 631,566" class="gd"/><text class="d" x="654" y="567.5">Issue resolved?</text></g>
<g id="apn14"><rect x="633" y="618" width="42" height="25" class="g"/><text class="nb" x="654" y="628.5" font-size="3.7">14. APN</text><text class="nb" x="654" y="634.5" font-size="3.7">Confirmation</text></g>
<g id="ver2"><rect x="702" y="618" width="44" height="25" class="g"/><text class="ds" x="724" y="624">Verify the device has</text><text class="ds" x="724" y="628">either</text><text class="ds" x="724" y="632">ATT/CRICKET or</text><text class="ds" x="724" y="636">the PHONE APN</text><text class="ds" x="724" y="640">selected</text></g>
<g id="apnT"><rect x="695" y="646" width="58" height="32" fill="#c98aef" stroke="#2e2e2e" stroke-width="1"/><rect x="698" y="649" width="52" height="26" class="tin"/><text class="r" x="724" y="653">Phone</text><rect x="698" y="655" width="52" height="6" class="hl"/><text class="rw" x="724" y="659">NXTGENPHONE</text><text class="r" x="724" y="666.5">Sp-Higher</text><text class="r" x="724" y="673">Enhanced Phone</text></g>
<g id="rst15"><rect x="773" y="618" width="42" height="25" class="g"/><text class="nb" x="794" y="628.5" font-size="3.7">15. Reset Network</text><text class="nb" x="794" y="634.5" font-size="3.7">Settings</text></g>
<g id="note8"><rect x="771" y="645" width="46" height="45" class="note"/><text class="nt" x="794" y="659" font-size="3.6">Bluetooth</text><text class="nt" x="794" y="665" font-size="3.6">WiFi</text><text class="nt" x="794" y="672" font-size="3.6">cellular</text><text class="nt" x="794" y="678" font-size="3.6">connectivity</text></g>
<g id="fix4"><polygon points="872,610 895,630 872,650 849,630" class="pd"/><text class="d" x="872" y="631.5">Did that fix it?</text></g>
<g id="endF"><circle cx="873" cy="692" r="12" class="end"/><text class="ek" x="873" y="691">END of</text><text class="ek" x="873" y="695">Issue</text></g>
<g id="liq16"><rect x="921" y="618" width="44" height="25" class="p"/><text class="nb" x="943" y="628.5" font-size="3.7">16. Physical Liquid</text><text class="nb" x="943" y="634.5" font-size="3.7">Damage?</text></g>
<g id="fix5"><polygon points="1023,610 1046,630 1023,650 1000,630" class="gd"/><text class="d" x="1023" y="631.5">Did that fix it?</text></g>
<g id="tick17"><rect x="1076" y="618" width="43" height="25" class="g"/><text class="nb" x="1097.5" y="632" font-size="3.7">17. Ticket Details</text></g>
<g id="endG"><circle cx="1023" cy="692" r="12" class="end"/><text class="ek" x="1023" y="691">END of</text><text class="ek" x="1023" y="695">Issue</text></g>
<g id="bigT"><rect x="1050" y="680" width="57" height="105" class="tg"/><rect x="1053" y="683" width="51" height="99" class="tin"/><text class="r" x="1078.5" y="687">Not Searching in Selected (TS)</text><text class="r" x="1078.5" y="693">Email</text><text class="r" x="1078.5" y="699.5">Internet</text><text class="r" x="1078.5" y="706">Messaging</text><text class="r" x="1078.5" y="712.5">Login help</text><path d="M1053,715.5H1104" class="dv"/><text class="r" x="1078.5" y="720">Shortcuts</text><text class="r" x="1078.5" y="726">Notifications</text><rect x="1053" y="729.5" width="51" height="7" class="hl"/><text class="rw" x="1078.5" y="734">Phone Calls</text><text class="r" x="1078.5" y="741">Voicemail</text><text class="r" x="1078.5" y="747.5">Wi-Fi</text><path d="M1053,750.5H1104" class="dv"/><text class="r" x="1078.5" y="755">Wi-Fi Calling</text><text class="r" x="1078.5" y="762">TV &amp; IP Video Status</text><text class="r" x="1078.5" y="768.5">AT&amp;T TV</text><text class="r" x="1078.5" y="775">International Billing Plans</text><text class="r" x="1078.5" y="781">Call Blockers</text></g>

<!-- ===== PHONE FLOW NODES ===== -->
<g id="start2"><ellipse cx="200" cy="830" rx="22" ry="10" class="st"/><text class="n" x="200" y="832">START</text></g>
<g id="att2"><rect x="242" y="813" width="32" height="34" class="bl"/><text class="n wt" x="258" y="832">ATT.com</text></g>
<g id="crm2"><rect x="302" y="818" width="45" height="24" class="g"/><text class="n" x="324.5" y="828">Mobility</text><text class="n" x="324.5" y="835">Clarify CRM</text></g>
<g id="auth2"><rect x="377" y="818" width="45" height="24" class="g"/><text class="n" x="399.5" y="828">Authenticate</text><text class="n" x="399.5" y="835">User</text></g>
<g id="authT2"><rect x="370" y="845" width="58" height="32" class="tg"/><rect x="373" y="848" width="52" height="6" class="tin"/><rect x="373" y="856" width="52" height="18" class="tin"/><text class="r" x="399" y="852.5">Phone Number</text><text class="r" x="399" y="862">User Name</text><text class="r" x="399" y="871">Account</text></g>
<g id="note9"><rect x="428" y="779" width="46" height="45" class="note"/><text class="nt" x="451" y="785" font-weight="bold">Issues like:</text><text class="nt" x="451" y="789">1. I can't place or receive</text><text class="nt" x="451" y="793">calls</text><text class="nt" x="451" y="797.5">2. I can't access the</text><text class="nt" x="451" y="801.5">internet in my mobile</text><text class="nt" x="451" y="805.5">device</text><text class="nt" x="451" y="810">3. I can't send/ receive</text><text class="nt" x="451" y="814">text messages</text></g>
<g id="verify3"><polygon points="505,810 528,830 505,850 482,830" class="gd"/><text class="n" x="505" y="828.5">Verify</text><text class="n" x="505" y="835.5">Passcode</text></g>
<g id="notgo2"><rect x="469" y="887" width="87" height="40" class="g"/><text class="n" x="512.5" y="901">Not going to give the</text><text class="n" x="512.5" y="908.5">information specific to the</text><text class="n" x="512.5" y="916">user</text></g>
<g id="share2"><rect x="469" y="961" width="87" height="40" class="g"/><text class="n" x="512.5" y="974">Share generic trouble</text><text class="n" x="512.5" y="981.5">shooting(related to device</text><text class="n" x="512.5" y="989">settings)</text></g>
<g id="goto2"><rect x="598" y="818" width="42" height="25" class="g"/><text class="n" x="619" y="832.5">Go to needs</text></g>
<g id="nl1b"><rect x="678" y="818" width="41" height="25" class="g"/><text class="n" x="698.5" y="832.5">Need Level 1</text></g>
<g id="nl2b"><rect x="756" y="818" width="41" height="25" class="g"/><text class="n" x="776.5" y="832.5">Need Level 2</text></g>
<g id="nl3b"><rect x="834" y="818" width="40" height="25" class="g"/><text class="n" x="854" y="832.5">Need Level 3</text></g>
<g id="tser2"><rect x="913" y="818" width="40" height="25" class="g"/><text class="n" x="933" y="832.5">TSER</text></g>
<g id="t1b"><rect x="669" y="847" width="58" height="66" class="tg"/><rect x="672" y="850" width="52" height="60" class="tin"/><rect x="672" y="850" width="52" height="10" class="hl"/><text class="rw" x="698" y="854">Device &amp; Service Help and</text><text class="rw" x="698" y="858">Troubleshooting</text><text class="r" x="698" y="865">Shop and Purchase</text><text class="r" x="698" y="871">Account and Profile</text><text class="r" x="698" y="875">Management</text><text class="r" x="698" y="883">Billing</text><text class="r" x="698" y="890">Payments</text><path d="M672,894H724" class="dv"/><text class="r" x="698" y="899">Plans and Features</text><text class="r" x="698" y="907">Cancellation and Retention</text></g>
<g id="t2b"><rect x="747" y="847" width="59" height="67" class="tg"/><rect x="750" y="850" width="53" height="61" class="tin"/><text class="r" x="776.5" y="854">Managing Plans &amp; Device Support</text><text class="r" x="776.5" y="861">Device Help &amp; Troubleshooting</text><text class="r" x="776.5" y="868">Feature Help &amp; Profile</text><text class="r" x="776.5" y="872">Blocking</text><rect x="750" y="876" width="53" height="11" class="hl"/><text class="rw" x="776.5" y="880.5">Service Help &amp;</text><text class="rw" x="776.5" y="884.5">Troubleshooting</text><text class="r" x="776.5" y="891">SIM/eSIM Help &amp;</text><text class="r" x="776.5" y="895">Troubleshooting</text><path d="M750,898H803" class="dv"/><text class="r" x="776.5" y="903">Activity Warranty Claim</text><text class="r" x="776.5" y="909">Mobile Insurance</text></g>
<g id="t3b"><rect x="825" y="847" width="58" height="67" class="tg"/><rect x="828" y="850" width="52" height="61" class="tin"/><text class="r" x="854" y="854">Cannot make or receive calls</text><text class="r" x="854" y="858">(TS)</text><text class="r" x="854" y="864">Connected Car</text><path d="M828,867.5H880" class="dv"/><text class="r" x="854" y="872">Dropped Calls/Coverage/</text><text class="r" x="854" y="876">Quality (TS)</text><rect x="828" y="879" width="52" height="7" class="hl"/><text class="rw" x="854" y="883.5">Mobile Data Connectivity (TS)</text><text class="r" x="854" y="890">Mobile Hotspot Connectivity</text><text class="r" x="854" y="894">(TS)</text><path d="M828,897H880" class="dv"/><text class="r" x="854" y="902">Real Time Text</text><text class="r" x="854" y="909">NumberSync (TS)</text></g>
<g id="glob2"><rect x="990" y="818" width="42" height="25" class="g"/><text class="n" x="1011" y="832.5">Global Logon</text></g>
<g id="svc2"><rect x="1056" y="788" width="44" height="26" class="g"/><text class="n" x="1078" y="799">Service/Network</text><text class="n" x="1078" y="806">Issues</text></g>
<g id="dev2"><rect x="1056" y="846" width="44" height="25" class="g"/><text class="n" x="1078" y="856.5">Device/Software</text><text class="n" x="1078" y="863.5">Issues</text></g>
<g id="cap2"><rect x="1155" y="793" width="43" height="25" class="g"/><text class="nb" x="1176.5" y="803.5">1. Capture Issue</text><text class="nb" x="1176.5" y="809.5">location &amp; Time</text></g>
<g id="addr2"><polygon points="1246,759 1270,779 1246,799 1222,779" class="gd"/><text class="ds" x="1246" y="772">Did you</text><text class="ds" x="1246" y="776.5">experience</text><text class="ds" x="1246" y="781">the issue at</text><text class="ds" x="1246" y="785.5">this address?</text></g>
<g id="enter2"><rect x="1226" y="829" width="42" height="25" class="p"/><text class="n" x="1247" y="843.5">Enter address</text></g>
<g id="when2"><polygon points="1326,759 1350,779 1326,799 1302,779" class="pd"/><text class="d" x="1326" y="780.5">When did it start?</text></g>
<g id="cal2"><rect x="1302" y="803" width="49" height="12" fill="#d08cf2"/><text class="r" x="1326.5" y="808">Choose from the calendar Date</text><text class="r" x="1326.5" y="812">&amp; Time selection</text></g>
<g id="what3"><rect x="1374" y="766" width="43" height="25" class="p"/><text class="nb" x="1395.5" y="776.5">3. What is your</text><text class="nb" x="1395.5" y="782.5">issue?</text></g>
<g id="what3T"><rect x="1364" y="794" width="59" height="39" class="tg"/><rect x="1367" y="797" width="53" height="33" class="tin"/><rect x="1367" y="797" width="53" height="6" class="hl"/><text class="rw" x="1393.5" y="801">Slow Data(cellular network)</text><text class="r" x="1393.5" y="808">AT&amp;T Video Call</text><text class="r" x="1393.5" y="814.5">Wi-Fi Calling</text><text class="r" x="1393.5" y="821">NumberSync Phone/Data</text><text class="r" x="1393.5" y="827.5">Mesh Call</text></g>
<g id="dial"><rect x="1438" y="766" width="43" height="25" class="p"/><text class="nb" x="1459.5" y="780" font-size="3.6">How are you dialing?</text></g>
<g id="dialT"><rect x="1429" y="794" width="58" height="17" class="tg"/><rect x="1432" y="797" width="52" height="11" class="tin"/><rect x="1432" y="797" width="52" height="5" class="hl"/><text class="rw" x="1458" y="800.8">Domestic</text><text class="r" x="1458" y="806.5">International</text></g>
<g id="pend2"><rect x="1508" y="766" width="44" height="25" class="p"/><text class="nb" x="1530" y="776.5">4. Pending Trend</text><text class="nb" x="1530" y="782.5">for Network Issue</text></g>
<g id="pend2T"><rect x="1501" y="794" width="58" height="36" class="tg"/><rect x="1504" y="797" width="52" height="30" class="tin"/><text class="r" x="1530" y="801">Want to check for issues in</text><text class="r" x="1530" y="804.5">different location, on a date and</text><text class="r" x="1530" y="808">time in the past?</text><text class="r" x="1530" y="814">What is coverage like in the</text><text class="r" x="1530" y="817.5">area?</text><text class="r" x="1530" y="824">Review NBA Info</text></g>
<g id="known2"><rect x="1574" y="766" width="43" height="25" class="g"/><text class="nb" x="1595.5" y="780">5. Known Issues</text></g>
<g id="known2T"><rect x="1566" y="794" width="58" height="35" class="tg"/><rect x="1569" y="797" width="52" height="29" class="tin"/><text class="r" x="1595" y="800.5">Network and System Outages</text><text class="r" x="1595" y="807">Service Issues Log(Billing)</text><path d="M1569,811H1621" class="dv"/><text class="r" x="1595" y="816">Wifi Fault Tracker</text></g>
<g id="outage2"><polygon points="1663,759 1686,779 1663,799 1640,779" class="pd"/><text class="ds" x="1663" y="777.5" font-size="3">Did that service outage of</text><text class="ds" x="1663" y="782" font-size="3">explain the issue?</text></g>
<g id="endH"><circle cx="1730" cy="779" r="12" class="end"/><text class="ek" x="1730" y="778">END of</text><text class="ek" x="1730" y="782">Issue</text></g>
<g id="gat5"><rect x="1642" y="829" width="44" height="26" class="p"/><text class="nb" x="1664" y="840" font-size="3.7">5. Gather general</text><text class="nb" x="1664" y="846" font-size="3.7">service information</text></g>
<g id="note10"><rect x="1694" y="829" width="46" height="46" class="note"/><text class="nt" x="1717" y="835">What time the issue is there</text><text class="nt" x="1717" y="838.5">start?</text><text class="nt" x="1717" y="843">What does the signal strength</text><text class="nt" x="1717" y="846.5">show?</text><text class="nt" x="1717" y="851">Navigate the issue is</text><text class="nt" x="1717" y="854.5">occurring?</text><text class="nt" x="1717" y="859">How are other customers in the</text><text class="nt" x="1717" y="862.5">area experiencing the same issue?</text><text class="nt" x="1717" y="867">What is the device network</text><text class="nt" x="1717" y="870.5">technology displayed?</text></g>
<g id="wifi6"><rect x="1642" y="884" width="44" height="26" class="p"/><text class="nb" x="1664" y="895">6. Offer WiFi</text><text class="nb" x="1664" y="901">Calling</text></g>
<g id="want"><polygon points="1664,927 1687,947 1664,967 1641,947" class="pd"/><text class="ds" x="1664" y="939" font-size="4">Does the</text><text class="ds" x="1664" y="944.5" font-size="4">customer want</text><text class="ds" x="1664" y="950" font-size="4">to use Wi-Fi</text><text class="ds" x="1664" y="955.5" font-size="4">Calling?</text></g>
<g id="endI"><circle cx="1664" cy="1007" r="12" class="end"/><text class="ek" x="1664" y="1006">END of</text><text class="ek" x="1664" y="1010">Issue</text></g>
<g id="gat7"><rect x="1565" y="932" width="43" height="25" class="p"/><text class="nb" x="1586.5" y="942.5" font-size="3.7">7. gather phone call</text><text class="nb" x="1586.5" y="948.5" font-size="3.7">information</text></g>
<g id="whatis"><rect x="1504" y="932" width="45" height="25" class="p"/><text class="nb" x="1526.5" y="946" font-size="3.7">What is the issue?</text></g>
<g id="whatisT"><rect x="1495" y="960" width="59" height="55" class="tg"/><rect x="1498" y="963" width="53" height="49" class="tin"/><text class="r" x="1524.5" y="967">Dropped Calls/Call quality</text><text class="r" x="1524.5" y="973.5">Cannot call specific numbers</text><text class="r" x="1524.5" y="979.5">Cannot receive specific</text><text class="r" x="1524.5" y="983.5">numbers</text><text class="r" x="1524.5" y="990">Cannot make all numbers</text><text class="r" x="1524.5" y="997">Cannot receive all numbers</text><rect x="1498" y="1001" width="53" height="11" class="hl"/><text class="rw" x="1524.5" y="1005.5">Cannot make and receive</text><text class="rw" x="1524.5" y="1009.5">calls</text></g>
<g id="chk8"><rect x="1439" y="933" width="42" height="25" class="p"/><text class="nb" x="1460" y="943.5" font-size="3.7">8. Check device</text><text class="nb" x="1460" y="949.5" font-size="3.7">settings. Resolved?</text></g>
<g id="fix6"><polygon points="1390,926 1413,946 1390,966 1367,946" class="pd"/><text class="d" x="1390" y="947.5">Did that fix it?</text></g>
<g id="note11"><rect x="1376" y="894" width="28" height="28" class="note"/><text class="nt" x="1390" y="904">Capture Voice</text><text class="nt" x="1390" y="908">Mail Call</text><text class="nt" x="1390" y="912">Logs</text></g>
<g id="hd9"><rect x="1293" y="933" width="42" height="25" class="p"/><text class="nb" x="1314" y="943.5" font-size="3.7">9. Check HD Voice</text><text class="nb" x="1314" y="949.5" font-size="3.7">Settings</text></g>
<g id="fix7"><polygon points="1244,925 1267,945 1244,965 1221,945" class="pd"/><text class="d" x="1244" y="946.5">Did that fix it?</text></g>
<g id="endJ"><circle cx="1318" cy="1006" r="12" class="end"/><text class="ek" x="1318" y="1005">END of</text><text class="ek" x="1318" y="1009">Issue</text></g>
<g id="exp12"><rect x="1146" y="933" width="42" height="25" class="p"/><text class="nb" x="1167" y="943.5" font-size="3.6">12. Explain call drop</text><text class="nb" x="1167" y="949.5" font-size="3.6">and ask questions</text></g>
<g id="call2"><polygon points="1097,925 1120,945 1097,965 1074,945" class="pd"/><text class="ds" x="1097" y="939" font-size="3">Is the customer</text><text class="ds" x="1097" y="943" font-size="3">calling/ chatting</text><text class="ds" x="1097" y="947" font-size="3">on the device having</text><text class="ds" x="1097" y="951" font-size="3">the issue?</text></g>
<g id="endK"><circle cx="1097" cy="887" r="12" class="end"/><text class="ek" x="1097" y="886">END of</text><text class="ek" x="1097" y="890">Issue</text></g>
<g id="ref11"><rect x="998" y="933" width="43" height="25" class="p"/><text class="nb" x="1019.5" y="943.5" font-size="3.6">11. Refresh Network</text><text class="nb" x="1019.5" y="949.5" font-size="3.6">Connection</text></g>
<g id="can2"><rect x="931" y="933" width="40" height="25" class="p"/><text class="n" x="951" y="943">Cancel</text><text class="n" x="951" y="950">Registration</text></g>
<g id="rst10b"><rect x="862" y="933" width="40" height="25" class="yl"/><text class="nb" x="882" y="943.5" font-size="3.6">10. Restart your</text><text class="nb" x="882" y="949.5" font-size="3.6">device</text></g>
<g id="res2"><polygon points="882,987 904,1007 882,1027 860,1007" class="pd"/><text class="d" x="882" y="1008.5">Issue resolved?</text></g>
<g id="temp13"><rect x="937" y="994" width="40" height="25" class="g"/><text class="nb" x="957" y="1004.5" font-size="3.6">13. Temporary</text><text class="nb" x="957" y="1010.5" font-size="3.6">service issues</text></g>
<g id="note12"><rect x="939" y="1022" width="40" height="34" fill="#d9a0f3"/><text class="nt" x="959" y="1031">Checking the</text><text class="nt" x="959" y="1035.5">network is there</text><text class="nt" x="959" y="1040">any customer</text><text class="nt" x="959" y="1044.5">location impact</text></g>
<g id="alert14"><rect x="1004" y="994" width="43" height="25" class="g"/><text class="nb" x="1025.5" y="1004.5" font-size="3.6">14. Device Alerts</text><text class="nb" x="1025.5" y="1010.5" font-size="3.6">Software update</text></g>
<g id="kq"><polygon points="1103,987 1126,1007 1103,1027 1080,1007" class="pd"/><text class="ds" x="1103" y="1002.5" font-size="3.5">Is there a known</text><text class="ds" x="1103" y="1007.5" font-size="3.5">or trending</text><text class="ds" x="1103" y="1012.5" font-size="3.5">issue?</text></g>
<g id="tick15"><rect x="1158" y="994" width="43" height="25" class="g"/><text class="nb" x="1179.5" y="1008" font-size="3.7">15. Ticket Details</text></g>
<g id="endL"><circle cx="882" cy="1068" r="12" class="end"/><text class="ek" x="882" y="1067">END of</text><text class="ek" x="882" y="1071">Issue</text></g>
</svg>
